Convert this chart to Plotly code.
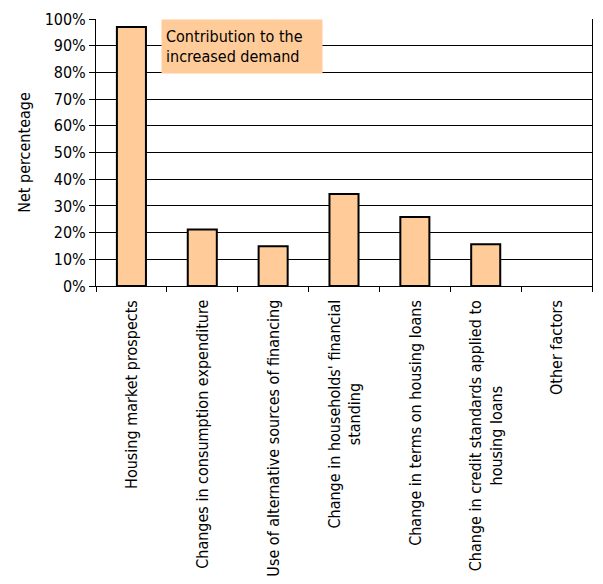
import plotly.graph_objects as go

categories = [
    "Housing market prospects",
    "Changes in consumption expenditure",
    "Use of alternative sources of financing",
    "Change in households' financial<br>standing",
    "Change in terms on housing loans",
    "Change in credit standards applied to<br>housing loans",
    "Other factors",
]
net_percentage = [97, 21.2, 14.9, 34.5, 25.8, 15.6, 0]
y_tick_values = list(range(0, 101, 10))
y_tick_labels = [f"{v}%" for v in y_tick_values]

FONT = "DejaVu Sans Condensed, DejaVu Sans, sans-serif"
BAR_FILL = "#FFCC99"

# no outline on empty bars, so a zero value leaves nothing on the axis
outline_widths = [2 if v > 0 else 0 for v in net_percentage]

fig = go.Figure()
fig.add_trace(go.Bar(
    x=categories,
    y=net_percentage,
    width=0.41,
    marker=dict(color=BAR_FILL, line=dict(color="#000000", width=outline_widths)),
    hoverinfo="x+y",
))

# rotated category labels hanging below the axis
for cat in categories:
    fig.add_annotation(
        x=cat, xref="x", y=0, yref="paper",
        yshift=-12,
        text=cat, textangle=-90,
        xanchor="center", yanchor="top",
        showarrow=False, align="center",
        font=dict(family=FONT, size=16, color="#000000"),
    )

# legend-style caption box
fig.add_annotation(
    x=0.131, xref="paper", y=1.0, yref="paper",
    xanchor="left", yanchor="top",
    text="Contribution to the<br>increased demand",
    showarrow=False, align="left",
    width=152, height=45,
    bgcolor=BAR_FILL, borderpad=4,
    font=dict(family=FONT, size=16, color="#000000"),
)

fig.update_layout(
    width=603, height=584,
    margin=dict(l=96, r=10, t=17, b=298),
    paper_bgcolor="#ffffff", plot_bgcolor="#ffffff",
    showlegend=False,
    font=dict(family=FONT, size=16, color="#000000"),
)
fig.update_xaxes(
    type="category",
    tickson="boundaries",
    ticks="outside", ticklen=5, tickcolor="#000000", tickwidth=1,
    showticklabels=False,
    showline=True, linecolor="#000000", linewidth=1,
    showgrid=False,
)
fig.update_yaxes(
    range=[0, 100],
    tickvals=y_tick_values, ticktext=y_tick_labels,
    ticks="outside", ticklen=6, tickcolor="#000000",
    showgrid=True, gridcolor="#000000", gridwidth=1,
    showline=True, linecolor="#000000", linewidth=1, mirror=True,
    zeroline=False,
    title=dict(text="Net percenteage", standoff=10, font=dict(family=FONT, size=16)),
    tickfont=dict(family=FONT, size=16),
)

fig.write_html("out.html")
